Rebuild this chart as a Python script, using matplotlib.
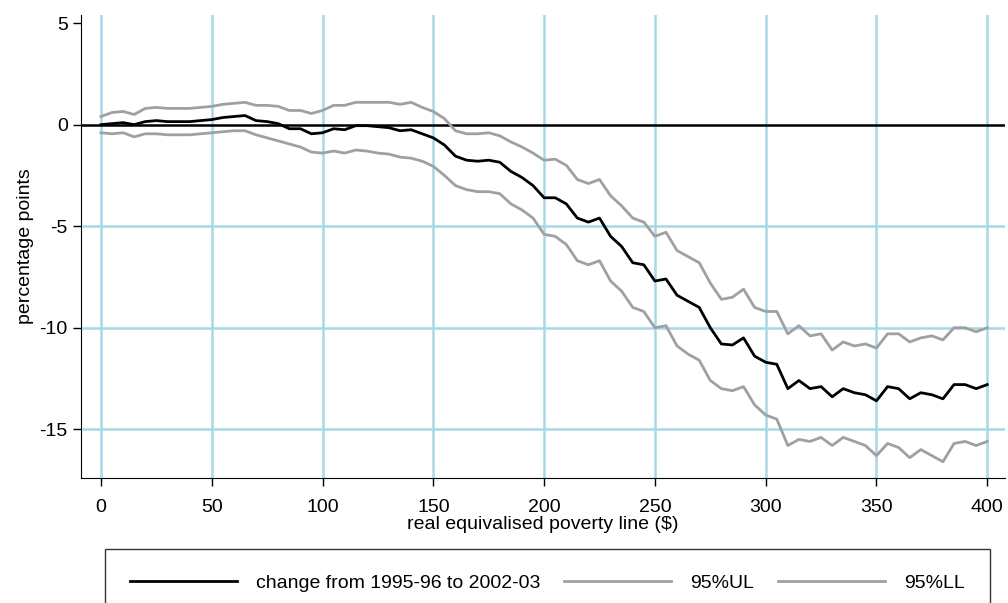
import numpy as np
import matplotlib.pyplot as plt

plt.rcParams['font.family'] = ['Liberation Sans', 'DejaVu Sans']

x = np.arange(0, 401, 5)
change = [0, 0.05, 0.1, 0, 0.15, 0.2, 0.15, 0.15, 0.15, 0.2, 0.25, 0.35, 0.4, 0.45, 0.2, 0.15, 0.05,
          -0.2, -0.2, -0.45, -0.4, -0.2, -0.25, -0.05, -0.05, -0.1, -0.15, -0.3, -0.25, -0.45, -0.65,
          -1.0, -1.55, -1.75, -1.8, -1.75, -1.85, -2.3, -2.6, -3.0, -3.6, -3.6, -3.9, -4.6, -4.8, -4.6,
          -5.5, -6.0, -6.8, -6.9, -7.7, -7.6, -8.4, -8.7, -9.0, -10.0, -10.8, -10.85, -10.5, -11.4,
          -11.7, -11.8, -13.0, -12.6, -13.0, -12.9, -13.4, -13.0, -13.2, -13.3, -13.6, -12.9, -13.0,
          -13.5, -13.2, -13.3, -13.5, -12.8, -12.8, -13.0, -12.8]
ul = [0.4, 0.6, 0.65, 0.5, 0.8, 0.85, 0.8, 0.8, 0.8, 0.85, 0.9, 1.0, 1.05, 1.1, 0.95, 0.95, 0.9,
      0.7, 0.7, 0.55, 0.7, 0.95, 0.95, 1.1, 1.1, 1.1, 1.1, 1.0, 1.1, 0.85, 0.65, 0.3, -0.3, -0.45,
      -0.45, -0.4, -0.55, -0.85, -1.1, -1.4, -1.75, -1.7, -2.0, -2.7, -2.9, -2.7, -3.5, -4.0, -4.6,
      -4.8, -5.5, -5.3, -6.2, -6.5, -6.8, -7.8, -8.6, -8.5, -8.1, -9.0, -9.2, -9.2, -10.3, -9.9,
      -10.4, -10.3, -11.1, -10.7, -10.9, -10.8, -11.0, -10.3, -10.3, -10.7, -10.5, -10.4, -10.6,
      -10.0, -10.0, -10.2, -10.0]
ll = [-0.4, -0.45, -0.4, -0.6, -0.45, -0.45, -0.5, -0.5, -0.5, -0.45, -0.4, -0.35, -0.3, -0.3,
      -0.5, -0.65, -0.8, -0.95, -1.1, -1.35, -1.4, -1.3, -1.4, -1.25, -1.3, -1.4, -1.45, -1.6,
      -1.65, -1.8, -2.05, -2.5, -3.0, -3.2, -3.3, -3.3, -3.4, -3.9, -4.2, -4.6, -5.4, -5.5, -5.9,
      -6.7, -6.9, -6.7, -7.7, -8.2, -9.0, -9.2, -10.0, -9.9, -10.9, -11.3, -11.6, -12.6, -13.0,
      -13.1, -12.9, -13.8, -14.3, -14.5, -15.8, -15.5, -15.6, -15.4, -15.8, -15.4, -15.6, -15.8,
      -16.3, -15.7, -15.9, -16.4, -16.0, -16.3, -16.6, -15.7, -15.6, -15.8, -15.6]

fig = plt.figure(figsize=(10.08, 6.03), dpi=100)
ax = fig.add_axes([81/1008, 1-478/603, 924/1008, 463/603])
grid_c = '#a8d8e6'
for gx in range(0, 401, 50):
    ax.axvline(gx, color=grid_c, lw=1.8, zorder=0)
for gy in [-5, -10, -15]:
    ax.axhline(gy, color=grid_c, lw=1.8, zorder=0)
ax.axhline(0, color='black', lw=1.8, zorder=1)

l1, = ax.plot(x, change, color='black', lw=2, zorder=3)
l2, = ax.plot(x, ul, color='#a0a0a0', lw=2, zorder=2)
l3, = ax.plot(x, ll, color='#a0a0a0', lw=2, zorder=2)

ax.set_xlim(-9, 408)
ax.set_ylim(-17.4, 5.4)
ax.set_xticks(range(0, 401, 50))
ax.set_yticks([5, 0, -5, -10, -15])
ax.set_yticklabels(['5', '0', '-5', '-10', '-15'])
ax.tick_params(labelsize=14, length=6, width=1)
ax.tick_params(axis='x', pad=9)
for s in ['top', 'right']:
    ax.spines[s].set_visible(False)
ax.set_xlabel('real equivalised poverty line ($)', fontsize=14, labelpad=0)
ax.set_ylabel('percentage points', fontsize=14)

fig.legend([l1, l2, l3], ['change from 1995-96 to 2002-03', '95%UL', '95%LL'],
           loc='lower left', bbox_to_anchor=(95/1008, -24/603, 905/1008, 73/603),
           mode='expand', ncol=3, fontsize=14, frameon=True, fancybox=False,
           edgecolor='black', handlelength=5.5, handletextpad=1.0, borderpad=1.3)

fig.savefig('out.png', dpi=100)
